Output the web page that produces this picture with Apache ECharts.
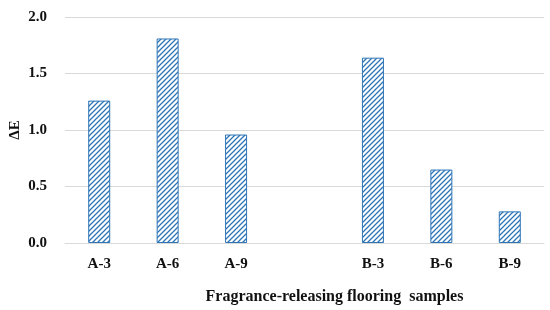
<!DOCTYPE html>
<html>
<head>
<meta charset="utf-8">
<script src="https://cdn.jsdelivr.net/npm/echarts@6/dist/echarts.min.js"></script>
<style>
  html, body { margin: 0; padding: 0; background: #fff; }
  #main { width: 550px; height: 310px; }
</style>
</head>
<body>
<div id="main"></div>
<script>
// samples (empty slot keeps the gap between A and B groups)
var categories = ['A-3', 'A-6', 'A-9', '', 'B-3', 'B-6', 'B-9'];
var deltaE = [1.26, 1.81, 0.96, null, 1.64, 0.65, 0.28];
var yTicks = [0, 0.5, 1.0, 1.5, 2.0];

// hatch pattern ////
function hatch() {
    var s = 5;
    var c = document.createElement('canvas');
    c.width = s; c.height = s;
    var ctx = c.getContext('2d');
    ctx.fillStyle = '#fff';
    ctx.fillRect(0, 0, s, s);
    ctx.strokeStyle = '#2e75b6';
    ctx.lineWidth = 1.3;
    ctx.beginPath();
    ctx.moveTo(-1, s + 1); ctx.lineTo(s + 1, -1);
    ctx.moveTo(-1, 1); ctx.lineTo(1, -1);
    ctx.moveTo(s - 1, s + 1); ctx.lineTo(s + 1, s - 1);
    ctx.stroke();
    return c;
}

var font = 'Liberation Serif';
var chart = echarts.init(document.getElementById('main'));
chart.setOption({
    animation: false,
    grid: { left: 65, right: 6, top: 17, bottom: 67, outerBoundsMode: 'none', containLabel: false },
    xAxis: {
        type: 'category',
        data: categories,
        axisLine: { lineStyle: { color: '#d9d9d9' } },
        axisTick: { show: false },
        axisLabel: { color: '#111', fontFamily: font, fontWeight: 'bold', fontSize: 15, margin: 14 },
        name: 'Fragrance-releasing flooring  samples',
        nameLocation: 'middle',
        nameGap: 46,
        nameMoveOverlap: false,
        nameTextStyle: { color: '#111', fontFamily: font, fontWeight: 'bold', fontSize: 16, padding: [0, 0, 0, 60] }
    },
    yAxis: {
        type: 'value',
        min: yTicks[0],
        max: yTicks[yTicks.length - 1],
        interval: 0.5,
        axisLine: { show: false },
        axisTick: { show: false },
        splitLine: { lineStyle: { color: '#d9d9d9' } },
        axisLabel: {
            color: '#111', fontFamily: font, fontWeight: 'bold', fontSize: 15, margin: 18,
            formatter: function (v) { return v.toFixed(1); }
        },
        name: 'ΔE',
        nameLocation: 'middle',
        nameGap: 42,
        nameRotate: 90,
        nameMoveOverlap: false,
        nameTextStyle: { color: '#111', fontFamily: font, fontWeight: 'bold', fontSize: 15 }
    },
    series: [{
        type: 'bar',
        data: deltaE,
        barWidth: 22,
        itemStyle: {
            color: { image: hatch(), repeat: 'repeat' },
            borderColor: '#2e75b6',
            borderWidth: 1
        }
    }]
});
</script>
</body>
</html>
